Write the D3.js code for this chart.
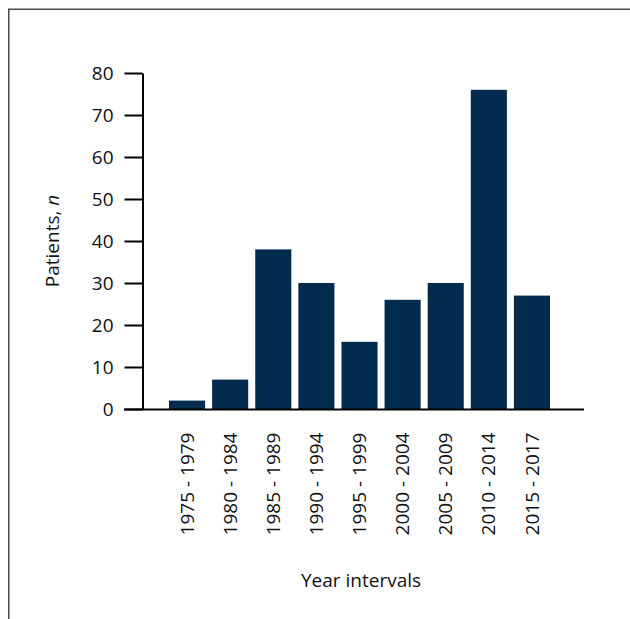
<!DOCTYPE html>
<html>
<head>
<meta charset="utf-8">
<script src="https://cdn.jsdelivr.net/npm/d3@7"></script>
<style>
  html, body { margin: 0; padding: 0; background: #fff; }
  svg { display: block; }
  text { font-family: "Open Sans", "Noto Sans", sans-serif; fill: #111; }
</style>
</head>
<body>
<svg id="chart" width="630" height="619"></svg>
<script>
const categories = ["1975 - 1979", "1980 - 1984", "1985 - 1989", "1990 - 1994", "1995 - 1999", "2000 - 2004", "2005 - 2009", "2010 - 2014", "2015 - 2017"];
const patients = [2, 7, 38, 30, 16, 26, 30, 76, 27];
const yTicks = [0, 10, 20, 30, 40, 50, 60, 70, 80];
const yTitle = "Patients, ";
const yTitleItalic = "n";
const xTitle = "Year intervals";

const svg = d3.select("#chart");
const FS = 19;

// frame lines (top and left)
svg.append("path")
  .attr("d", "M8.75,619 L8.75,9.25 L630,9.25")
  .attr("fill", "none").attr("stroke", "#4a4a4a").attr("stroke-width", 1.5);

const x = d3.scaleBand().domain(categories).range([165.5, 553.5])
  .paddingInner(0.163).paddingOuter(0.0815);
const y = d3.scaleLinear().domain([0, 80]).range([409, 73]);

// bars
svg.append("g").selectAll("rect").data(categories).join("rect")
  .attr("x", d => x(d))
  .attr("width", x.bandwidth())
  .attr("y", (d, i) => y(patients[i]))
  .attr("height", (d, i) => y(0) - y(patients[i]))
  .attr("fill", "#022b4e");

// y axis
const yAxis = svg.append("g").attr("transform", "translate(142.5,0)")
  .call(d3.axisLeft(y).tickValues(yTicks).tickSize(18).tickPadding(11).tickSizeOuter(0));
yAxis.select(".domain").attr("stroke", "#000").attr("stroke-width", 2);
yAxis.selectAll(".tick line").attr("stroke", "#000").attr("stroke-width", 2);
yAxis.selectAll(".tick text").attr("font-size", FS).attr("fill", "#111")
  .style("font-family", "'Open Sans', sans-serif");

// x axis line
const xAxis = svg.append("g").attr("transform", "translate(0,409.5)")
  .call(d3.axisBottom(x).tickSize(0).tickPadding(0));
xAxis.select(".domain").attr("d", "M124,0H584").attr("stroke", "#000").attr("stroke-width", 2.2);
xAxis.selectAll(".tick text")
  .attr("font-size", FS)
  .attr("fill", "#111")
  .style("font-family", "'Open Sans', sans-serif")
  .attr("text-anchor", "end")
  .attr("dy", "0.35em")
  .attr("transform", "translate(0,23) rotate(-90)")
  .attr("x", 0).attr("y", 0);

// axis titles
const yt = svg.append("text")
  .attr("transform", "translate(58.5,241) rotate(-90)")
  .attr("text-anchor", "middle")
  .attr("font-size", FS);
yt.append("tspan").text(yTitle);
yt.append("tspan").attr("font-style", "italic").text(yTitleItalic);

svg.append("text")
  .attr("x", 361).attr("y", 587)
  .attr("text-anchor", "middle")
  .attr("font-size", FS)
  .text(xTitle);
</script>
</body>
</html>
